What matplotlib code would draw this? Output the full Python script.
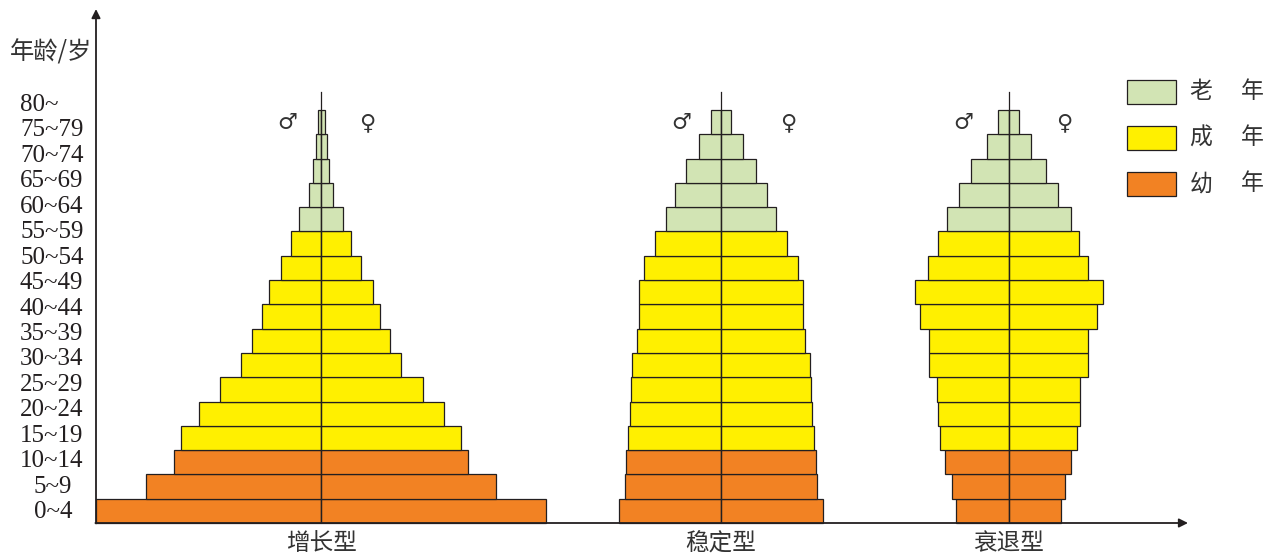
import matplotlib
matplotlib.use('Agg')
import matplotlib.pyplot as plt
from matplotlib.patches import Rectangle

plt.rcParams['font.family'] = ['Noto Sans CJK SC', 'DejaVu Sans']

# age groups, bottom to top
ages = ['0~4', '5~9', '10~14', '15~19', '20~24', '25~29', '30~34', '35~39', '40~44',
        '45~49', '50~54', '55~59', '60~64', '65~69', '70~74', '75~79', '80~']
stage = ['幼年'] * 3 + ['成年'] * 9 + ['老年'] * 5

# half widths (male left / female right)
grow_m = [225, 175, 147, 140, 122, 101, 80, 69, 59, 52, 40, 30, 22, 12, 8, 5, 3]
grow_f = [225, 175, 147, 140, 123, 102, 80, 69, 59, 52, 40, 30, 22, 12, 8, 6, 4]
stable_m = [102, 96, 95, 93, 91, 90, 89, 84, 82, 82, 77, 66, 55, 46, 35, 22, 10]
stable_f = [102, 96, 95, 93, 91, 90, 89, 84, 82, 82, 77, 66, 55, 46, 35, 22, 10]
decl_m = [53, 57, 64, 69, 71, 72, 80, 80, 89, 94, 81, 71, 62, 50, 38, 22, 11]
decl_f = [52, 56, 62, 68, 71, 71, 79, 79, 88, 94, 79, 70, 62, 49, 37, 22, 10]

types = ['增长型', '稳定型', '衰退型']
centers = [321, 721, 1009]
sym_off = [(-34, 46), (-40, 67), (-46, 55)]

colors = {'老年': '#d2e4b4', '成年': '#fff000', '幼年': '#f28223'}
legend_order = ['老年', '成年', '幼年']
edge = '#231f20'

row_px = 24.3
fig = plt.figure(figsize=(12.71, 5.57), dpi=100)
ax = fig.add_axes([0, 0, 1, 1])
ax.set_xlim(0, 1271)
ax.set_ylim(-34 / row_px, 523 / row_px)
ax.axis('off')

ys = list(range(len(ages)))
bar_colors = [colors[s] for s in stage]
pairs = [(grow_m, grow_f), (stable_m, stable_f), (decl_m, decl_f)]

for (m, f), c, name, (dm, df) in zip(pairs, centers, types, sym_off):
    ax.barh(ys, [-v for v in m], left=c, height=1, align='edge',
            color=bar_colors, edgecolor=edge, linewidth=0.9)
    ax.barh(ys, f, left=c, height=1, align='edge',
            color=bar_colors, edgecolor=edge, linewidth=0.9)
    ax.plot([c, c], [0.08, 17.74], color=edge, lw=0.9)
    ax.text(c + dm, 16.45, '♂', ha='center', va='center', fontsize=16,
            family='DejaVu Sans', color='#333333')
    ax.text(c + df, 16.45, '♀', ha='center', va='center', fontsize=16,
            family='DejaVu Sans', color='#333333')
    ax.text(c, -0.86, name, ha='center', va='center', fontsize=17, color='#333333')

# axes with arrows
ax.annotate('', xy=(96, 21.15), xytext=(96, -0.02),
            arrowprops=dict(arrowstyle='-|>', lw=1.3, color=edge, mutation_scale=13,
                            shrinkA=0, shrinkB=0))
ax.annotate('', xy=(1188, 0), xytext=(95.4, 0),
            arrowprops=dict(arrowstyle='-|>', lw=1.3, color=edge, mutation_scale=13,
                            shrinkA=0, shrinkB=0))

# age labels
for i, lab in enumerate(ages):
    yy = 0.45 + i * 1.047
    if len(lab) <= 3 and lab != '80~':
        ax.text(53, yy, lab, ha='center', va='center', fontsize=18,
                family='Liberation Serif', color='#231f20')
    else:
        ax.text(20, yy, lab, ha='left', va='center', fontsize=18,
                family='Liberation Serif', color='#231f20')

ax.text(51, (523 - 53) / row_px, '年龄/岁', ha='center', va='center', fontsize=17.5,
        color='#333333')

# legend
for k, key in enumerate(legend_order):
    top = 80 + k * 46
    ax.add_patch(Rectangle((1127, (523 - top - 24) / row_px), 49, 24 / row_px,
                           facecolor=colors[key], edgecolor=edge, lw=0.9))
    yc = (523 - top - 12) / row_px
    ax.text(1201, yc, key[0], ha='center', va='center', fontsize=16.5, color='#333333')
    ax.text(1252, yc, key[1], ha='center', va='center', fontsize=16.5, color='#333333')

fig.savefig('out.png', dpi=100)
